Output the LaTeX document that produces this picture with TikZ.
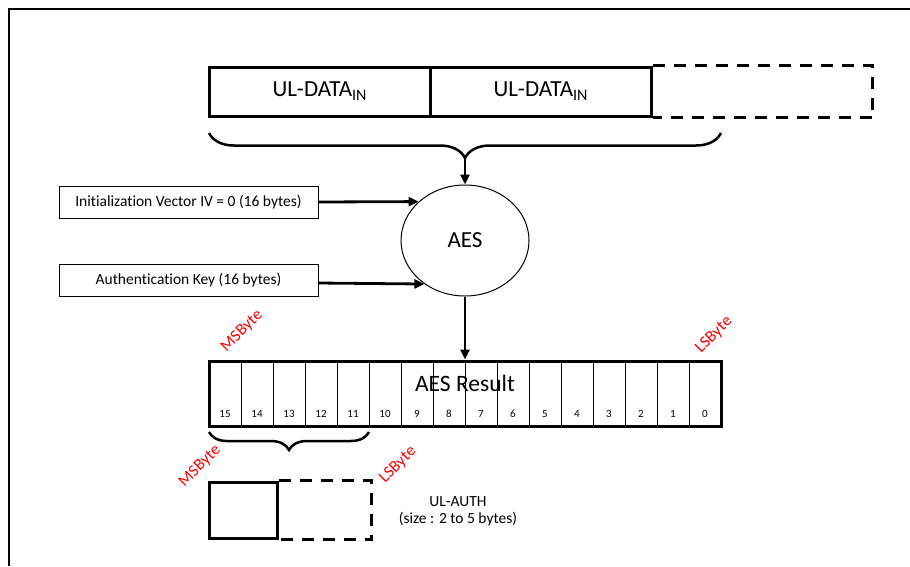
\documentclass[tikz,border=0pt]{standalone}
\usepackage{fontspec}
\setmainfont[Ligatures=NoCommon]{Carlito}
\usetikzlibrary{arrows.meta}
\usetikzlibrary{shapes.geometric}
\usetikzlibrary{decorations.pathreplacing}

\begin{document}
\begin{tikzpicture}[x=1pt, y=-1pt,
    databox/.style={draw, line width=3pt, minimum width=221pt, minimum height=49pt, inner sep=0pt, font=\fontsize{23}{26}\selectfont},
    inbox/.style={draw, line width=1pt, minimum width=259pt, minimum height=32pt, inner sep=0pt, font=\fontsize{15.5}{18}\selectfont},
    dashbox/.style={line width=3pt, dash pattern=on 12pt off 9pt},
    arr/.style={-{Triangle[length=10pt, width=9pt]}, line width=2.8pt},
    bracepath/.style={line width=2.5pt, decorate, decoration={brace, mirror, amplitude=#1}},
    bytelabel/.style={text=red, rotate=45, font=\fontsize{16.5}{18}\selectfont},
    cellnum/.style={font=\fontsize{11}{13}\selectfont}
]
    \useasboundingbox (0,0) rectangle (910,566);

    % Frame
    \draw[line width=2pt] (9,566) -- (9,9) -- (910,9);

    % Input data blocks
    \node[databox] (data1) at (319.5,91.5) {UL-DATA\raisebox{-0.35ex}{\fontsize{16}{18}\selectfont IN}};
    \node[databox] (data2) at (540.5,91.5) {UL-DATA\raisebox{-0.35ex}{\fontsize{16}{18}\selectfont IN}};
    \draw[dashbox] (data2.north east) -- ++(220,0) |- (data2.south east);
    \draw[bracepath=25pt] (209,133) -- (721,133);
    \coordinate (datatip) at (465,158);

    % AES block
    \node[ellipse, draw, line width=1pt, minimum width=128pt, minimum height=111pt, inner sep=0pt, font=\fontsize{23}{26}\selectfont] (aes) at (465,240.5) {AES};
    \node[inbox] (iv) at (188.5,202) {Initialization Vector IV = 0 (16 bytes)};
    \node[inbox] (key) at (188.5,280) {Authentication Key (16 bytes)};
    \draw[arr] (datatip) -- (aes);
    \draw[arr] (iv.east) -- (aes.140);
    \draw[arr] ([yshift=-3pt]key.east) -- (aes.227);

    % AES Result
    \node[font=\fontsize{23.5}{26}\selectfont] (restext) at (465,383) {AES Result};
    \foreach \k in {1,...,15}
        \draw[line width=1pt] (209+32*\k,361) -- (209+32*\k,426);
    \foreach \k [evaluate=\k as \b using int(15-\k)] in {0,...,15}
        \node[cellnum] (b\b) at (225+32*\k,414) {\b};
    \node[draw, line width=3pt, minimum width=512pt, minimum height=65pt, inner sep=0pt] (res) at (465,393.5) {};
    \draw[arr] (aes) -- (res);
    \node[bytelabel] (msb) at (242,331) {MSByte};
    \node[bytelabel] (lsb) at (714,335) {LSByte};

    % UL-AUTH
    \draw[bracepath=18pt] (209,432) -- (369,432);
    \node[draw, line width=3pt, minimum width=68pt, minimum height=56pt, inner sep=0pt] (auth) at (243,510) {};
    \draw[dashbox] (auth.north east) -- ++(93,0) |- (auth.south east);
    \node[bytelabel] (authmsb) at (200,466) {MSByte};
    \node[bytelabel] (authlsb) at (398,465) {LSByte};
    \node[align=center, font=\fontsize{15.5}{17}\selectfont] (authtext) at (458,511) {UL-AUTH\\(size : 2 to 5 bytes)};
\end{tikzpicture}
\end{document}
